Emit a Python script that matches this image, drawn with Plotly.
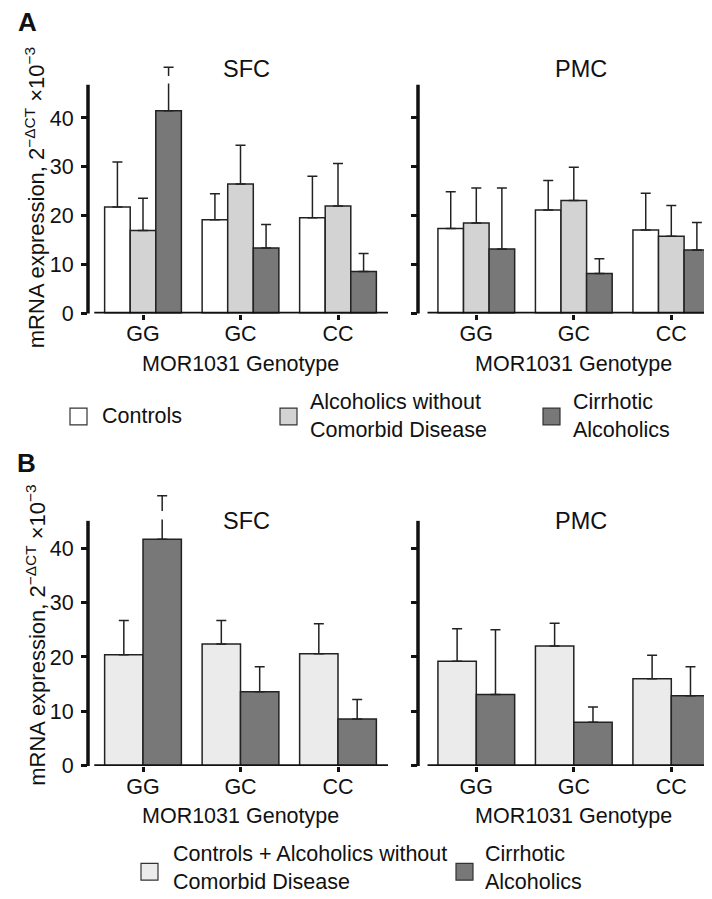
import plotly.graph_objects as go

W, H = 712, 899

# ---------------- data ----------------
genotypes = ["GG", "GC", "CC"]

# Panel A: SFC
a_sfc_controls = [21.8, 19.2, 19.6]
a_sfc_controls_err = [9.2, 5.3, 8.5]
a_sfc_alcoholics = [17.0, 26.5, 22.0]
a_sfc_alcoholics_err = [6.6, 7.9, 8.7]
a_sfc_cirrhotic = [41.5, 13.4, 8.6]
a_sfc_cirrhotic_err = [8.9, 4.8, 3.7]

# Panel A: PMC
a_pmc_controls = [17.4, 21.2, 17.1]
a_pmc_controls_err = [7.5, 6.0, 7.5]
a_pmc_alcoholics = [18.5, 23.1, 15.8]
a_pmc_alcoholics_err = [7.2, 6.8, 6.3]
a_pmc_cirrhotic = [13.2, 8.2, 13.0]
a_pmc_cirrhotic_err = [12.5, 3.0, 5.6]

# Panel B: SFC
b_sfc_combined = [20.4, 22.4, 20.6]
b_sfc_combined_err = [6.3, 4.3, 5.5]
b_sfc_cirrhotic = [41.6, 13.6, 8.6]
b_sfc_cirrhotic_err = [8.0, 4.6, 3.6]

# Panel B: PMC
b_pmc_combined = [19.2, 22.0, 16.0]
b_pmc_combined_err = [6.0, 4.2, 4.3]
b_pmc_cirrhotic = [13.1, 8.0, 12.9]
b_pmc_cirrhotic_err = [11.9, 2.8, 5.3]

y_tickvals = [0, 10, 20, 30, 40]
y_range = [0, 52]
axis_top_a = 46.8
axis_top_b = 45.0
break_a = [46.8, 48.6]
break_b = [45.0, 46.8]

FONT = "Liberation Sans, Arial, Helvetica, sans-serif"
EDGE = "#222222"
C_CTRL = "#ffffff"
C_ALC = "#d3d3d3"
C_CIRR = "#787878"
C_COMB = "#ebebeb"
BARGAP = 0.213
FS = 21.5


def px(x):
    return x / W


def py(y):
    return 1 - y / H


def bar(name, y, err, color, xa, ya):
    return go.Bar(
        name=name, x=genotypes, y=y, xaxis=xa, yaxis=ya,
        marker=dict(color=color, line=dict(color=EDGE, width=1.5)),
        error_y=dict(type="data", array=err, arrayminus=[0] * len(err),
                     symmetric=False, color=EDGE, thickness=1.5, width=5),
        showlegend=False,
    )


fig = go.Figure()
fig.add_trace(bar("Controls", a_sfc_controls, a_sfc_controls_err, C_CTRL, "x", "y"))
fig.add_trace(bar("Alcoholics without Comorbid Disease", a_sfc_alcoholics, a_sfc_alcoholics_err, C_ALC, "x", "y"))
fig.add_trace(bar("Cirrhotic Alcoholics", a_sfc_cirrhotic, a_sfc_cirrhotic_err, C_CIRR, "x", "y"))
fig.add_trace(bar("Controls", a_pmc_controls, a_pmc_controls_err, C_CTRL, "x2", "y2"))
fig.add_trace(bar("Alcoholics without Comorbid Disease", a_pmc_alcoholics, a_pmc_alcoholics_err, C_ALC, "x2", "y2"))
fig.add_trace(bar("Cirrhotic Alcoholics", a_pmc_cirrhotic, a_pmc_cirrhotic_err, C_CIRR, "x2", "y2"))
fig.add_trace(bar("Controls + Alcoholics without Comorbid Disease", b_sfc_combined, b_sfc_combined_err, C_COMB, "x3", "y3"))
fig.add_trace(bar("Cirrhotic Alcoholics", b_sfc_cirrhotic, b_sfc_cirrhotic_err, C_CIRR, "x3", "y3"))
fig.add_trace(bar("Controls + Alcoholics without Comorbid Disease", b_pmc_combined, b_pmc_combined_err, C_COMB, "x4", "y4"))
fig.add_trace(bar("Cirrhotic Alcoholics", b_pmc_cirrhotic, b_pmc_cirrhotic_err, C_CIRR, "x4", "y4"))

# panel geometry (pixels)
sfc_left, sfc_right, sfc_c0, step = 80, 380, 135.0, 97.5
pmc_left, pmc_right, pmc_c0 = 410, 712, 468.3
a_base, a_unit = 310, 4.96
b_base, b_unit = 769, 5.525


def xrange(left, right, c0):
    return [(left - c0) / step, (right - c0) / step]


def ydom(base, unit):
    top = base - y_range[1] * unit
    return [py(base), py(top)]


xcommon = dict(type="category", categoryorder="array", categoryarray=genotypes,
               showline=False, showgrid=False, zeroline=False,
               ticks="outside", ticklen=5, tickwidth=3, tickcolor="#111111",
               ticklabelstandoff=-4,
               tickfont=dict(family=FONT, size=FS, color="#111111"))
ycommon = dict(range=y_range, tickvals=y_tickvals, showline=False, showgrid=False,
               zeroline=False, ticks="outside", ticklen=6, tickwidth=3,
               tickcolor="#111111", ticklabelstandoff=3,
               tickfont=dict(family=FONT, size=FS, color="#111111"))

fig.update_layout(
    xaxis=dict(domain=[px(sfc_left), px(sfc_right)], range=xrange(sfc_left, sfc_right, sfc_c0), anchor="y", **xcommon),
    xaxis2=dict(domain=[px(pmc_left), px(pmc_right)], range=xrange(pmc_left, pmc_right, pmc_c0), anchor="y2", **xcommon),
    xaxis3=dict(domain=[px(sfc_left), px(sfc_right)], range=xrange(sfc_left, sfc_right, sfc_c0), anchor="y3", **xcommon),
    xaxis4=dict(domain=[px(pmc_left), px(pmc_right)], range=xrange(pmc_left, pmc_right, pmc_c0), anchor="y4", **xcommon),
    yaxis=dict(domain=ydom(a_base, a_unit), anchor="x", **ycommon),
    yaxis2=dict(domain=ydom(a_base, a_unit), anchor="x2", showticklabels=False, **ycommon),
    yaxis3=dict(domain=ydom(b_base, b_unit), anchor="x3", **ycommon),
    yaxis4=dict(domain=ydom(b_base, b_unit), anchor="x4", showticklabels=False, **ycommon),
)

shapes = []
# axis lines
for xa, ya, top in [("x", "y", axis_top_a), ("x2", "y2", axis_top_a),
                    ("x3", "y3", axis_top_b), ("x4", "y4", axis_top_b)]:
    shapes.append(dict(type="line", xref=xa + " domain", yref=ya, x0=0, x1=0, y0=-0.4, y1=top,
                       line=dict(color="#111111", width=3.5), layer="above"))
    shapes.append(dict(type="line", xref=xa, yref=ya, x0=-0.5, x1=10, y0=0, y1=0,
                       line=dict(color="#111111", width=3.5), layer="above"))

# break in the off-scale error bar (GG, cirrhotic)
w3 = (1 - BARGAP) / 3
w2 = (1 - BARGAP) / 2
for xa, ya, off, brk in [("x", "y", w3, break_a), ("x3", "y3", w2 / 2, break_b)]:
    shapes.append(dict(type="rect", xref=xa, yref=ya, x0=off - 0.07, x1=off + 0.07,
                       y0=brk[0] + 0.25, y1=brk[1], fillcolor="white", line=dict(width=0), layer="above"))


# manual legend boxes
def box(x0, y0, size, color):
    return dict(type="rect", xref="paper", yref="paper", x0=px(x0), x1=px(x0 + size),
                y0=py(y0 + size), y1=py(y0), fillcolor=color,
                line=dict(color="#333333", width=1.2))


shapes += [box(62, 406, 17, C_CTRL), box(272, 406, 17, C_ALC), box(535, 406, 17, C_CIRR),
           box(133, 868, 17, C_COMB), box(448, 868, 17, C_CIRR)]

annotations = []


def txt(text, x, y, size=FS, xanchor="center", bold=False, angle=0):
    if bold:
        text = "<b>" + text + "</b>"
    annotations.append(dict(text=text, x=x, y=y, xref="paper", yref="paper", showarrow=False,
                            xanchor=xanchor, yanchor="middle", textangle=angle, align="left",
                            font=dict(family=FONT, size=size, color="#111111")))


txt("A", px(8), py(14), size=26, xanchor="left", bold=True)
txt("B", px(7), py(462), size=26, xanchor="left", bold=True)
txt("SFC", px(238), py(62), size=23.5)
txt("PMC", px(573), py(62), size=23.5)
txt("SFC", px(238), py(521), size=23.5)
txt("PMC", px(573), py(521), size=23.5)
ytitle = "mRNA expression, 2<sup>−ΔCT</sup> ×10<sup>−3</sup>"
txt(ytitle, px(27), py(193), size=22, angle=-90)
txt(ytitle, px(28), py(637), size=22, angle=-90)
for xa, yy in [("x", 361), ("x2", 361), ("x3", 820), ("x4", 820)]:
    annotations.append(dict(text="MOR1031 Genotype", x="GC", y=py(yy), xref=xa, yref="paper",
                            showarrow=False, xanchor="center", yanchor="middle",
                            font=dict(family=FONT, size=FS, color="#111111")))
txt("Controls", px(92), py(414), xanchor="left")
txt("Alcoholics without<br>Comorbid Disease", px(300), py(414), xanchor="left")
txt("Cirrhotic<br>Alcoholics", px(563), py(414), xanchor="left")
txt("Controls + Alcoholics without<br>Comorbid Disease", px(163), py(873), xanchor="left")
txt("Cirrhotic<br>Alcoholics", px(475), py(873), xanchor="left")

fig.update_layout(
    width=W, height=H, autosize=False,
    margin=dict(l=0, r=0, t=0, b=0),
    paper_bgcolor="white", plot_bgcolor="white",
    barmode="group", bargap=BARGAP, bargroupgap=0,
    showlegend=False,
    shapes=shapes, annotations=annotations,
    font=dict(family=FONT, size=FS, color="#111111"),
)

fig.write_html("out.html")
